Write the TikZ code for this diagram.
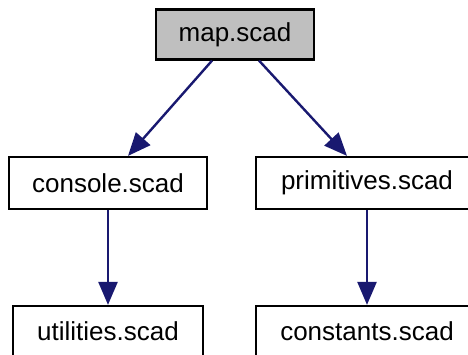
\documentclass[tikz,border=0pt]{standalone}
\usepackage{fontspec}
\setmainfont{Liberation Sans}
\usetikzlibrary{arrows.meta}
\definecolor{edgeblue}{RGB}{25,25,112}

\begin{document}
\begin{tikzpicture}[x=1pt, y=-1pt,
    file/.style={draw=black, line width=2.2pt, fill=white, inner sep=0pt,
        minimum height=50pt, font=\fontsize{26}{31}\selectfont},
    dep/.style={draw=edgeblue, line width=2.4pt,
        -{Triangle[length=23pt, width=19pt, fill=edgeblue]}}]

    % Page frame
    \useasboundingbox (0,0) rectangle (468,354);

    % Top file
    \node[file, fill=gray!50, minimum width=158pt] (map) at (235,34.5) {map.scad};

    % Middle row
    \node[file, minimum width=198pt, minimum height=52pt] (console) at (108,183) {console.scad};
    \node[file, minimum width=222pt, minimum height=52pt] (primitives) at (367,183) {primitives.scad};

    % Bottom row
    \node[file, minimum width=190pt] (utilities) at (108,331) {utilities.scad};
    \node[file, minimum width=222pt] (constants) at (367,331) {constants.scad};

    % Includes
    \draw[dep] (map) -- ([xshift=20pt]console.north);
    \draw[dep] (map) -- ([xshift=-20pt]primitives.north);
    \draw[dep] (console) -- (utilities);
    \draw[dep] (primitives) -- (constants);

\end{tikzpicture}
\end{document}
